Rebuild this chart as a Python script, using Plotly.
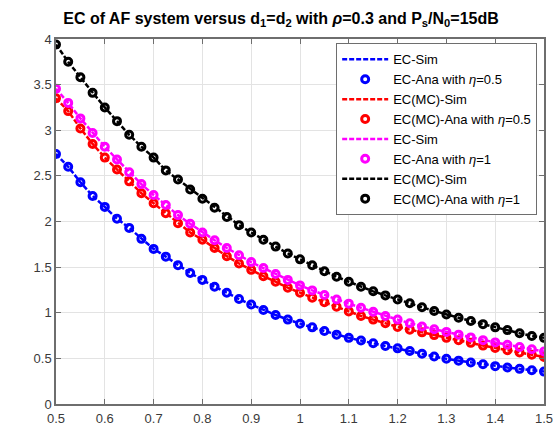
import plotly.graph_objects as go

# distance d1 = d2
d = [0.5, 0.525, 0.55, 0.575, 0.6, 0.625, 0.65, 0.675, 0.7, 0.725,
     0.75, 0.775, 0.8, 0.825, 0.85, 0.875, 0.9, 0.925, 0.95, 0.975,
     1.0, 1.025, 1.05, 1.075, 1.1, 1.125, 1.15, 1.175, 1.2, 1.225,
     1.25, 1.275, 1.3, 1.325, 1.35, 1.375, 1.4, 1.425, 1.45, 1.475, 1.5]

# EC, eta = 0.5
ec_eta05 = [2.74, 2.60, 2.43, 2.28, 2.16, 2.03, 1.93, 1.81, 1.70, 1.615,
            1.52, 1.435, 1.36, 1.285, 1.22, 1.15, 1.09, 1.03, 0.975, 0.925,
            0.88, 0.84, 0.80, 0.76, 0.725, 0.695, 0.665, 0.635, 0.61, 0.58,
            0.55, 0.52, 0.495, 0.475, 0.455, 0.435, 0.415, 0.40, 0.385, 0.37, 0.355]

# EC(MC), eta = 0.5
ecmc_eta05 = [3.35, 3.21, 3.02, 2.85, 2.70, 2.57, 2.44, 2.31, 2.20, 2.09,
              1.98, 1.88, 1.80, 1.71, 1.62, 1.54, 1.47, 1.40, 1.34, 1.275,
              1.22, 1.165, 1.115, 1.065, 1.015, 0.965, 0.925, 0.885, 0.845, 0.815,
              0.785, 0.755, 0.725, 0.70, 0.67, 0.64, 0.615, 0.59, 0.565, 0.54, 0.515]

# EC, eta = 1
ec_eta1 = [3.455, 3.30, 3.13, 2.97, 2.82, 2.68, 2.54, 2.41, 2.29, 2.18,
           2.07, 1.975, 1.88, 1.795, 1.71, 1.63, 1.555, 1.49, 1.425, 1.36,
           1.30, 1.245, 1.195, 1.145, 1.10, 1.055, 1.01, 0.965, 0.925, 0.885,
           0.85, 0.82, 0.79, 0.76, 0.73, 0.70, 0.675, 0.65, 0.625, 0.60, 0.575]

# EC(MC), eta = 1
ecmc_eta1 = [3.94, 3.75, 3.58, 3.41, 3.25, 3.10, 2.95, 2.82, 2.70, 2.56,
             2.46, 2.35, 2.25, 2.15, 2.05, 1.96, 1.88, 1.80, 1.725, 1.65,
             1.585, 1.52, 1.455, 1.395, 1.34, 1.285, 1.235, 1.19, 1.145, 1.105,
             1.06, 1.02, 0.98, 0.945, 0.91, 0.875, 0.84, 0.81, 0.775, 0.745, 0.725]

x_ticks = [0.5, 0.6, 0.7, 0.8, 0.9, 1.0, 1.1, 1.2, 1.3, 1.4, 1.5]
x_tick_text = ["0.5", "0.6", "0.7", "0.8", "0.9", "1", "1.1", "1.2", "1.3", "1.4", "1.5"]
y_ticks = [0, 0.5, 1, 1.5, 2, 2.5, 3, 3.5, 4]
y_tick_text = ["0", "0.5", "1", "1.5", "2", "2.5", "3", "3.5", "4"]

series = [
    ("EC-Sim", "EC-Ana with <i>η</i>=0.5", ec_eta05, "#0000ff"),
    ("EC(MC)-Sim", "EC(MC)-Ana with <i>η</i>=0.5", ecmc_eta05, "#ff0000"),
    ("EC-Sim", "EC-Ana with <i>η</i>=1", ec_eta1, "#ff00ff"),
    ("EC(MC)-Sim", "EC(MC)-Ana with <i>η</i>=1", ecmc_eta1, "#000000"),
]

FONT = "Liberation Sans, Arial, Helvetica, sans-serif"

fig = go.Figure()
for sim_name, ana_name, vals, col in series:
    fig.add_trace(go.Scatter(
        x=d, y=vals, mode="lines", name=sim_name,
        line=dict(color=col, width=2.5, dash="5px,2px"),
    ))
    fig.add_trace(go.Scatter(
        x=d, y=vals, mode="markers", name=ana_name,
        marker=dict(symbol="circle-open", size=7, color=col,
                    line=dict(color=col, width=3)),
    ))

axis_common = dict(
    showgrid=True, gridcolor="#e3e3e3", gridwidth=1,
    showline=True, linecolor="#6e6e6e", linewidth=1.5, mirror="ticks",
    ticks="inside", ticklen=5, tickcolor="#6e6e6e", tickwidth=1,
    tickfont=dict(family=FONT, size=13, color="#3a3a3a"),
    zeroline=False, automargin=False,
)

fig.update_layout(
    width=558, height=426,
    margin=dict(l=56, r=14, t=39, b=22),
    paper_bgcolor="white", plot_bgcolor="white",
    showlegend=True,
    title=dict(
        text="<b>EC of AF system versus d<sub>1</sub>=d<sub>2</sub> with "
             "<i>ρ</i>=0.3 and P<sub>s</sub>/N<sub>0</sub>=15dB</b>",
        x=281 / 558, xref="container", xanchor="center",
        y=1 - 18 / 426, yanchor="middle",
        font=dict(family=FONT, size=16, color="#000000"),
    ),
    xaxis=dict(range=[0.5, 1.5], tickvals=x_ticks, ticktext=x_tick_text,
               ticklabelstandoff=2, **axis_common),
    yaxis=dict(range=[0, 4], tickvals=y_ticks, ticktext=y_tick_text,
               **axis_common),
    legend=dict(
        x=0.986, y=0.988, xanchor="right", yanchor="top",
        bgcolor="white", bordercolor="#6e6e6e", borderwidth=1,
        font=dict(family=FONT, size=13, color="#000000"),
        tracegroupgap=0, itemwidth=46,
    ),
)

fig.write_html("out.html")
